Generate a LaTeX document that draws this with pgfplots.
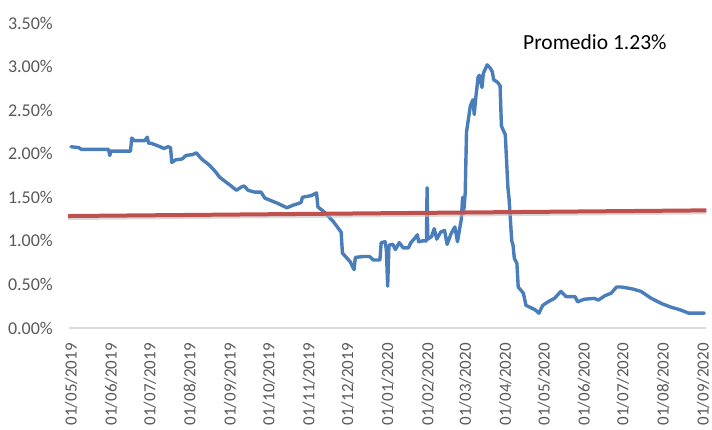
\documentclass[border=0pt]{standalone}
\usepackage{pgfplots}
\pgfplotsset{compat=1.18}
\usepackage{fontspec}
\setmainfont{Carlito}
\definecolor{blueline}{RGB}{74,126,187}
\definecolor{redline}{RGB}{192,80,77}
\definecolor{ticktext}{RGB}{89,89,89}
\definecolor{axisgrey}{RGB}{217,217,217}
\begin{document}
\begin{tikzpicture}
\begin{axis}[
  at={(0,0)}, anchor=south west,
  scale only axis,
  width=637pt, height=305pt,
  xmin=-1.55, xmax=491.3,
  ymin=0, ymax=3.5,
  axis lines=left,
  x axis line style={-, draw=axisgrey, line width=1.3pt},
  y axis line style={draw=none},
  major tick length=0pt,
  clip=false,
  xtick={0,31,61,92,123,153,184,214,245,276,305,336,366,397,427,458,489},
  xticklabels={01/05/2019,01/06/2019,01/07/2019,01/08/2019,01/09/2019,01/10/2019,01/11/2019,01/12/2019,01/01/2020,01/02/2020,01/03/2020,01/04/2020,01/05/2020,01/06/2020,01/07/2020,01/08/2020,01/09/2020},
  ytick={0,0.5,1,1.5,2,2.5,3,3.5},
  yticklabels={0.00\%,0.50\%,1.00\%,1.50\%,2.00\%,2.50\%,3.00\%,3.50\%},
  xticklabel style={font=\fontsize{17}{17}\selectfont, text=ticktext, rotate=90, anchor=east, inner sep=0pt},
  yticklabel style={font=\fontsize{18}{18}\selectfont, text=ticktext, anchor=east, inner sep=0pt},
  xticklabel shift=15pt,
  yticklabel shift=16pt,
]
\addplot[blueline, line width=3.4pt, line join=round, line cap=round] coordinates {
(0,2.08)(6,2.07)(8,2.05)(29,2.05)(30,1.98)(31,2.03)(46,2.03)(47,2.18)(49,2.15)(57,2.15)(59,2.19)(60,2.12)(62,2.12)(69,2.08)(72,2.06)(75,2.08)(77,2.07)(78,1.90)(81,1.93)(86,1.94)(89,1.98)(94,1.99)(97,2.01)(101,1.94)(107,1.87)(112,1.79)(115,1.73)(123,1.64)(128,1.58)(132,1.62)(134,1.63)(137,1.58)(142,1.56)(147,1.56)(150,1.49)(155,1.46)(160,1.43)(167,1.38)(172,1.41)(178,1.44)(179,1.50)(186,1.52)(190,1.55)(191,1.39)(196,1.33)(203,1.22)(209,1.10)(210,0.86)(216,0.76)(219,0.67)(220,0.81)(226,0.82)(231,0.82)(234,0.78)(239,0.78)(240,0.98)(243,0.99)(244,0.90)(245,0.48)(246,0.95)(249,0.96)(251,0.90)(254,0.98)(257,0.92)(261,0.92)(263,0.98)(266,1.03)(268,1.07)(269,0.99)(272,1.00)(275,1.00)(275.5,1.61)(276,1.02)(279,1.05)(281,1.14)(283,1.02)(286,1.10)(289,1.12)(291,0.96)(294,1.08)(297,1.16)(299,0.99)(302,1.25)(303,1.50)(304,1.36)(305,1.55)(306,2.25)(308,2.45)(309,2.55)(311,2.62)(312,2.45)(313,2.62)(315,2.88)(316,2.90)(318,2.76)(319,2.92)(322,3.02)(324,2.99)(326,2.94)(327,2.85)(330,2.82)(332,2.78)(333,2.32)(335,2.25)(336,2.22)(338,1.62)(339,1.47)(341,1.00)(342,0.95)(343,0.80)(345,0.74)(346,0.47)(350,0.40)(352,0.26)(359,0.21)(362,0.17)(365,0.26)(369,0.30)(374,0.34)(379,0.42)(383,0.36)(390,0.36)(392,0.30)(397,0.33)(405,0.34)(408,0.32)(413,0.37)(418,0.40)(422,0.47)(426,0.47)(434,0.45)(441,0.42)(449,0.34)(457,0.28)(464,0.24)(471,0.21)(478,0.17)(490,0.17)
};
\addplot[black!25, opacity=0.6, line width=4pt, yshift=-2pt] coordinates {(-2.3,1.285)(491.5,1.35)};
\addplot[redline, line width=4pt] coordinates {(-2.3,1.285)(491.5,1.35)};
\node[anchor=west, inner sep=0pt, font=\fontsize{21.5}{21.5}\selectfont, text=black] at (axis cs:349.7,3.285) {Promedio 1.23\%};
\end{axis}
\pgfresetboundingbox
\path[use as bounding box] (-69pt,-101pt) rectangle (643pt,328pt);
\end{tikzpicture}
\end{document}
